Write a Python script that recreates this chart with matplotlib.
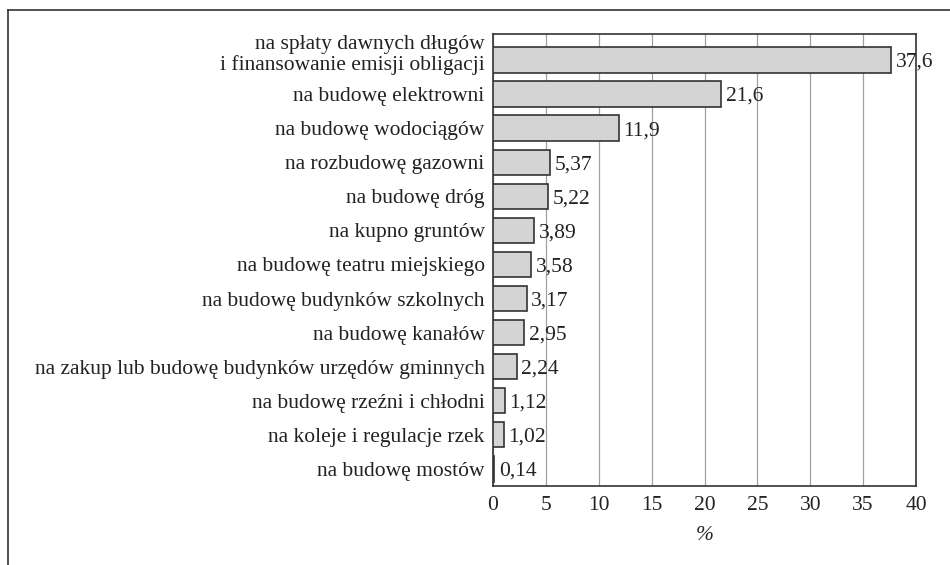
import matplotlib.pyplot as plt
from matplotlib.lines import Line2D
from matplotlib.transforms import ScaledTranslation

categories = [
    "na spłaty dawnych długów\ni finansowanie emisji obligacji",
    "na budowę elektrowni",
    "na budowę wodociągów",
    "na rozbudowę gazowni",
    "na budowę dróg",
    "na kupno gruntów",
    "na budowę teatru miejskiego",
    "na budowę budynków szkolnych",
    "na budowę kanałów",
    "na zakup lub budowę budynków urzędów gminnych",
    "na budowę rzeźni i chłodni",
    "na koleje i regulacje rzek",
    "na budowę mostów",
]
values = [37.6, 21.6, 11.9, 5.37, 5.22, 3.89, 3.58, 3.17, 2.95, 2.24, 1.12, 1.02, 0.14]
value_labels = ["37,6", "21,6", "11,9", "5,37", "5,22", "3,89", "3,58", "3,17",
                "2,95", "2,24", "1,12", "1,02", "0,14"]
xticks = [0, 5, 10, 15, 20, 25, 30, 35, 40]

plt.rcParams['font.family'] = ['Liberation Serif', 'DejaVu Serif']

fig = plt.figure(figsize=(9.5, 5.65), dpi=100)
ax = fig.add_axes([493 / 950, 1 - 486 / 565, (916 - 493) / 950, (486 - 34) / 565])

ypos = list(range(len(categories)))
ax.barh(ypos, values, height=0.74, color='#d4d4d4', edgecolor='#333333', linewidth=1.2, zorder=3)
for y, v, lab in zip(ypos, values, value_labels):
    ax.text(v + 0.45, y, lab, va='center_baseline', ha='left', fontsize=15.5,
            color='#222222', zorder=4)

ax.set_xlim(0, 40)
ax.set_ylim(12.5, -0.76)
ax.set_yticks(ypos)
ax.set_yticklabels(categories, fontsize=15.5, color='#222222', linespacing=1.1)
ax.set_xticks(xticks)
ax.set_xticklabels([str(t) for t in xticks], fontsize=15.5, color='#222222')
ax.tick_params(axis='y', length=0, pad=6)
ax.tick_params(axis='x', length=0, pad=7)
ax.xaxis.grid(True, color='#a0a0a0', linewidth=0.9, zorder=0)
ax.set_axisbelow(True)
for s in ax.spines.values():
    s.set_color('#333333')
    s.set_linewidth(1.2)
ax.set_xlabel('%', fontsize=15.5, style='italic', color='#222222', labelpad=8)

# two-line label sits a bit above its bar in the original
first = ax.get_yticklabels()[0]
first.set_transform(first.get_transform() + ScaledTranslation(0, 8 / 100, fig.dpi_scale_trans))

# outer frame (top and left only, as cropped in the original)
fig.add_artist(Line2D([8 / 950, 8 / 950], [0, 1 - 10 / 565], transform=fig.transFigure,
                      color='#333333', linewidth=1.2))
fig.add_artist(Line2D([8 / 950, 1], [1 - 10 / 565, 1 - 10 / 565], transform=fig.transFigure,
                      color='#333333', linewidth=1.2))

fig.savefig('out.png', dpi=100)
